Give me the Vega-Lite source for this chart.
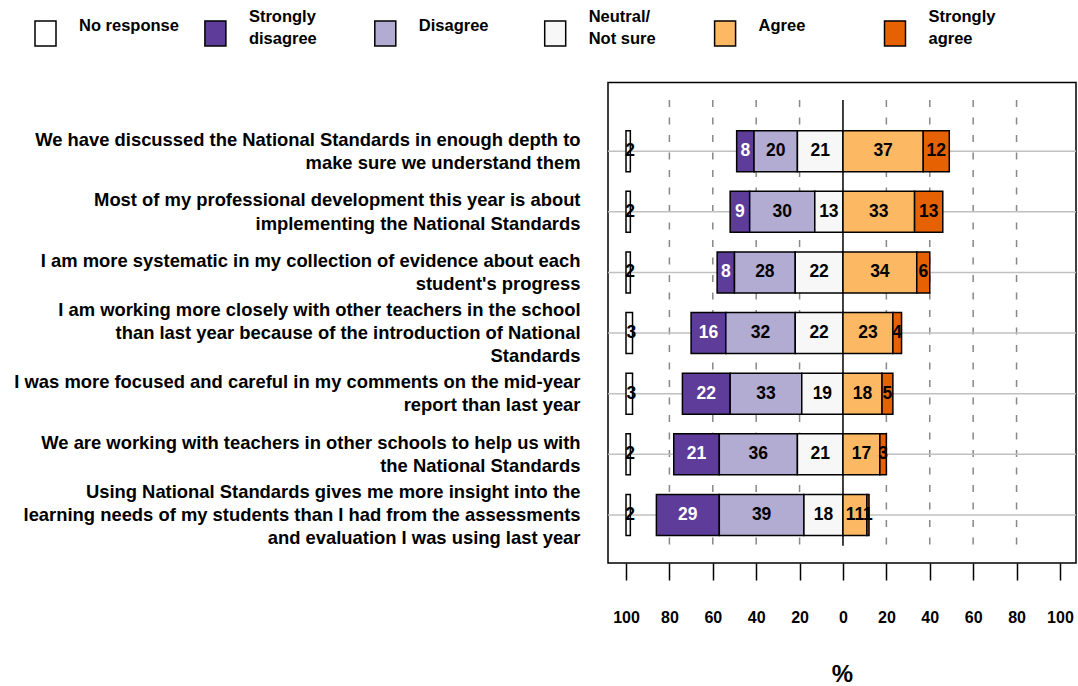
{
  "$schema": "https://vega.github.io/schema/vega-lite/v6.json",
  "width": 468,
  "height": 480.5,
  "autosize": {"type": "none"},
  "padding": {"left": 608, "top": 82.5, "right": 2, "bottom": 123},
  "config": {
    "font": "Liberation Sans",
    "view": {"stroke": "black", "strokeWidth": 1.5},
    "axis": {"labelColor": "black", "titleColor": "black", "grid": false, "domain": false}
  },
  "data": {
    "values": [
      {"q": "We have discussed the National Standards in enough depth to\nmake sure we understand them", "No response": 2, "Strongly disagree": 8, "Disagree": 20, "Neutral/Not sure": 21, "Agree": 37, "Strongly agree": 12},
      {"q": "Most of my professional development this year is about \nimplementing the National Standards", "No response": 2, "Strongly disagree": 9, "Disagree": 30, "Neutral/Not sure": 13, "Agree": 33, "Strongly agree": 13},
      {"q": "I am more systematic in my collection of evidence about each\nstudent's progress", "No response": 2, "Strongly disagree": 8, "Disagree": 28, "Neutral/Not sure": 22, "Agree": 34, "Strongly agree": 6},
      {"q": "I am working more closely with other teachers in the school\nthan last year because of the introduction of National\nStandards", "No response": 3, "Strongly disagree": 16, "Disagree": 32, "Neutral/Not sure": 22, "Agree": 23, "Strongly agree": 4},
      {"q": "I was more focused and careful in my comments on the mid-year \nreport than last year", "No response": 3, "Strongly disagree": 22, "Disagree": 33, "Neutral/Not sure": 19, "Agree": 18, "Strongly agree": 5},
      {"q": "We are working with teachers in other schools to help us with\nthe National Standards", "No response": 2, "Strongly disagree": 21, "Disagree": 36, "Neutral/Not sure": 21, "Agree": 17, "Strongly agree": 3},
      {"q": "Using National Standards gives me more insight into the\nlearning needs of my students than I had from the assessments\nand evaluation I was using last year", "No response": 2, "Strongly disagree": 29, "Disagree": 39, "Neutral/Not sure": 18, "Agree": 11, "Strongly agree": 1}
    ]
  },
  "resolve": {"scale": {"y": "independent"}, "axis": {"y": "independent"}},
  "layer": [
    {
      "data": {"values": [{"g": -80}, {"g": -60}, {"g": -40}, {"g": -20}, {"g": 20}, {"g": 40}, {"g": 60}, {"g": 80}, {"g": 0}]},
      "transform": [
        {"calculate": "0", "as": "ytop"},
        {"calculate": "1", "as": "ybot"}
      ],
      "encoding": {
        "x": {
          "field": "g", "type": "quantitative", "title": "%",
          "scale": {"domain": [-108.3, 107.4], "nice": false, "zero": false},
          "axis": {"values": [-100, -80, -60, -40, -20, 0, 20, 40, 60, 80, 100], "labelExpr": "abs(datum.value)", "tickSize": 17, "tickColor": "black", "tickWidth": 1.5, "labelFontSize": 16, "labelFontWeight": "bold", "labelPadding": 29, "labelFlush": false, "labelOverlap": false, "title": "%", "titleFontSize": 24, "titleFontWeight": "bold", "titlePadding": 37}
        },
        "y": {"field": "ytop", "type": "quantitative", "scale": {"domain": [-0.0393, 1.0388], "reverse": true, "nice": false, "zero": false}, "axis": null},
        "y2": {"field": "ybot"}
      },
      "layer": [
        {
          "transform": [{"filter": "datum.g != 0"}],
          "mark": {"type": "rule", "color": "#888888", "strokeWidth": 1.5, "strokeDash": [7, 10.5]}
        },
        {
          "transform": [{"filter": "datum.g == 0"}],
          "mark": {"type": "rule", "color": "black", "strokeWidth": 1.5}
        }
      ]
    },
    {
      "layer": [
        {
          "mark": {"type": "rule", "color": "#c0c0c0", "strokeWidth": 1.5},
          "encoding": {
            "y": {
              "field": "q", "type": "nominal", "sort": null, "title": null,
              "scale": {"paddingInner": 0.3234, "paddingOuter": 0.626, "align": 0.636, "round": false},
              "axis": {
                "ticks": false, "labelFontSize": 18.4, "labelFontWeight": "bold", "labelLimit": 1000, "labelPadding": 28, "labelLineHeight": 23.3,
                "labelExpr": "split(datum.label, '\\n')", "title": null,
                "labelOffset": {"condition": {"test": "length(split(datum.value, '\\n')) > 2", "value": -23.3}, "value": -11.6}
              }
            }
          }
        },
        {
          "transform": [
            {"fold": ["No response", "Strongly disagree", "Disagree", "Neutral/Not sure", "Agree", "Strongly agree"], "as": ["cat", "value"]},
            {"filter": "datum.cat != 'No response'"},
            {"calculate": "indexof(['Neutral/Not sure','Disagree','Strongly disagree','Agree','Strongly agree'], datum.cat)", "as": "ord"},
            {"calculate": "datum.ord < 3 ? -datum.value : datum.value", "as": "sval"},
            {"stack": "sval", "groupby": ["q"], "sort": [{"field": "ord", "order": "ascending"}], "as": ["x0", "x1"], "offset": "zero"},
            {"calculate": "(datum.x0 + datum.x1) / 2", "as": "mid"}
          ],
          "layer": [
            {
              "mark": {"type": "bar", "stroke": "black", "strokeWidth": 1.5},
              "encoding": {
                "y": {"field": "q", "type": "nominal", "sort": null, "title": null},
                "x": {"field": "x0", "type": "quantitative", "title": "%"},
                "x2": {"field": "x1"},
                "color": {
                  "field": "cat", "type": "nominal",
                  "scale": {"domain": ["No response", "Strongly disagree", "Disagree", "Neutral/Not sure", "Agree", "Strongly agree"], "range": ["#ffffff", "#5e3c99", "#b2abd2", "#f7f7f7", "#fdb863", "#e66101"]},
                  "legend": {
                    "orient": "none", "legendX": -576, "legendY": -74.5, "direction": "horizontal", "columns": 6, "gridAlign": "all", "columnPadding": 22.9, "padding": 0,
                    "title": null, "symbolType": "M-0.84,-0.08H0.84V1.92H-0.84Z M0,-1.3 M0,2.3", "symbolSize": 625, "symbolStrokeColor": "black", "symbolStrokeWidth": 1.5, "symbolOpacity": 1,
                    "labelFontSize": 16.5, "labelFontWeight": "bold", "labelOffset": 20, "labelLimit": 300, "labelColor": "black",
                    "labelExpr": "datum.label == 'Strongly disagree' ? ['Strongly','disagree'] : datum.label == 'Neutral/Not sure' ? ['Neutral/','Not sure'] : datum.label == 'Strongly agree' ? ['Strongly','agree'] : datum.label",
                    "encoding": {
                      "labels": {
                        "dy": {"condition": {"test": "datum.value == 'Strongly disagree' || datum.value == 'Neutral/Not sure' || datum.value == 'Strongly agree'", "value": -4.5}, "value": 4.2},
                        "lineHeight": {"value": 22}
                      }
                    }
                  }
                }
              }
            },
            {
              "mark": {"type": "text", "fontSize": 17.5, "fontWeight": "bold", "align": "center", "baseline": "middle"},
              "encoding": {
                "y": {"field": "q", "type": "nominal", "sort": null, "title": null},
                "x": {"field": "mid", "type": "quantitative", "title": "%"},
                "text": {"field": "value", "type": "quantitative"},
                "color": {"condition": {"test": "datum.cat == 'Strongly disagree'", "value": "white"}, "value": "black"}
              }
            }
          ]
        },
        {
          "transform": [
            {"fold": ["No response"], "as": ["cat", "value"]},
            {"calculate": "-100", "as": "xs"},
            {"calculate": "-100 + datum.value", "as": "xe"},
            {"calculate": "-100 + datum.value / 2", "as": "mid"}
          ],
          "layer": [
            {
              "mark": {"type": "bar", "stroke": "black", "strokeWidth": 1.5},
              "encoding": {
                "y": {"field": "q", "type": "nominal", "sort": null, "title": null},
                "x": {"field": "xs", "type": "quantitative", "title": "%"},
                "x2": {"field": "xe"},
                "color": {"field": "cat", "type": "nominal"}
              }
            },
            {
              "mark": {"type": "text", "fontSize": 17.5, "fontWeight": "bold", "align": "center", "baseline": "middle", "color": "black", "dx": 2},
              "encoding": {
                "y": {"field": "q", "type": "nominal", "sort": null, "title": null},
                "x": {"field": "mid", "type": "quantitative", "title": "%"},
                "text": {"field": "value", "type": "quantitative"}
              }
            }
          ]
        }
      ]
    }
  ]
}
